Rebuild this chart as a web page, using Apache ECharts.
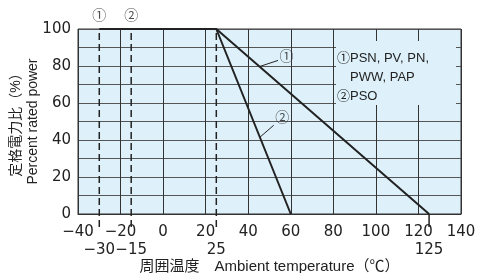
<!DOCTYPE html>
<html lang="ja">
<head>
<meta charset="UTF-8">
<script src="https://cdn.jsdelivr.net/npm/echarts@6/dist/echarts.min.js"></script>
<style>html,body{margin:0;padding:0;background:#fff}</style>
</head>
<body>
<div id="main" style="width:478px;height:273px;"></div>
<script>
// 定格電力比 derating curves
var curve1 = [[-30, 100], [25, 100], [125, 0]];   // ① PSN, PV, PN, PWW, PAP
var curve2 = [[-15, 100], [25, 100], [60, 0]];    // ② PSO
var markTemps = [-30, -15, 25];                   // dashed guides
var extraTicks = [-30, -15, 25, 125];             // second row labels
var topMarks = [[-30, 107, '①'], [-15, 107, '②']];
var leader1 = [[45.3, 79.7], [54, 83]];
var leader2 = [[45.5, 41.5], [52, 48]];
var curveLabels = [[58, 85, '①'], [56, 52, '②']];

var FONT = '"Liberation Sans", "Noto Sans CJK JP", sans-serif';
var NUMFONT = '"DejaVu Sans", sans-serif';
var minus = function (v) { return String(v).replace('-', '\u2212'); };

var chart = echarts.init(document.getElementById('main'));

var series = [
	{ type: 'line', data: curve1, symbol: 'none', lineStyle: { color: '#222', width: 2 }, z: 5 },
	{ type: 'line', data: curve2, symbol: 'none', lineStyle: { color: '#222', width: 2 }, z: 5 },
	{ type: 'line', data: leader1, symbol: 'none', lineStyle: { color: '#222', width: 1 }, z: 5 },
	{ type: 'line', data: leader2, symbol: 'none', lineStyle: { color: '#222', width: 1 }, z: 5 },
	{
		type: 'scatter', symbolSize: 0, clip: false, z: 6,
		data: topMarks.concat(curveLabels),
		label: { show: true, position: 'inside', formatter: function (p) { return p.data[2]; }, color: '#222', fontSize: 14, fontFamily: FONT }
	}
];
markTemps.forEach(function (t) {
	series.push({ type: 'line', data: [[t, -7], [t, 100]], symbol: 'none', clip: false, z: 4,
		lineStyle: { color: '#222', width: 1.5, type: [7, 4] } });
});
series.push({ type: 'line', data: [[125, -7], [125, 0]], symbol: 'none', clip: false, z: 4,
	lineStyle: { color: '#222', width: 1.5 } });

chart.setOption({
	animation: false,
	grid: { left: 78, right: 17, top: 29, bottom: 59, outerBoundsMode: 'none', containLabel: false,
		show: true, backgroundColor: '#def1fa', borderColor: '#333', borderWidth: 1 },
	xAxis: [
		{
			type: 'value', min: -40, max: 140, interval: 20,
			name: '周囲温度　Ambient temperature（℃）', nameLocation: 'middle', nameGap: 45, nameMoveOverlap: false,
			nameTextStyle: { fontSize: 15, color: '#222', fontFamily: FONT },
			axisLine: { lineStyle: { color: '#333' } }, axisTick: { show: false },
			axisLabel: { fontSize: 15, color: '#222', margin: 11, fontFamily: NUMFONT, formatter: minus },
			splitLine: { show: true, lineStyle: { color: '#333', width: 1 } }
		},
		{
			type: 'value', min: -40, max: 140, interval: 5, position: 'bottom', offset: 18,
			axisLine: { show: false }, axisTick: { show: false }, splitLine: { show: false },
			axisLabel: { fontSize: 15, color: '#222', margin: 11, fontFamily: NUMFONT,
				formatter: function (v) { return extraTicks.indexOf(v) >= 0 ? minus(v) : ''; } }
		}
	],
	yAxis: {
		type: 'value', min: 0, max: 100, interval: 10,
		name: '定格電力比（%）\nPercent rated power', nameLocation: 'middle', nameRotate: 90, nameGap: 36, nameMoveOverlap: false,
		nameTextStyle: { fontSize: 14, color: '#222', fontFamily: FONT, lineHeight: 17 },
		axisLine: { lineStyle: { color: '#333' } }, axisTick: { show: false },
		axisLabel: { fontSize: 15, color: '#222', margin: 7, fontFamily: NUMFONT,
			formatter: function (v) { return v % 20 === 0 ? v : ''; } },
		splitLine: { show: true, lineStyle: { color: '#555', width: 1 } }
	},
	graphic: [
		{ type: 'rect', shape: { x: 336, y: 41, width: 120, height: 64 }, style: { fill: '#def1fa' }, z: 1 },
		{ type: 'text', left: 337, top: 52, z: 10, style: { text: '①PSN, PV, PN,', font: '13px ' + FONT, fill: '#222' } },
		{ type: 'text', left: 350, top: 71, z: 10, style: { text: 'PWW, PAP', font: '13px ' + FONT, fill: '#222' } },
		{ type: 'text', left: 337, top: 90, z: 10, style: { text: '②PSO', font: '13px ' + FONT, fill: '#222' } }
	],
	series: series
});
</script>
</body>
</html>
